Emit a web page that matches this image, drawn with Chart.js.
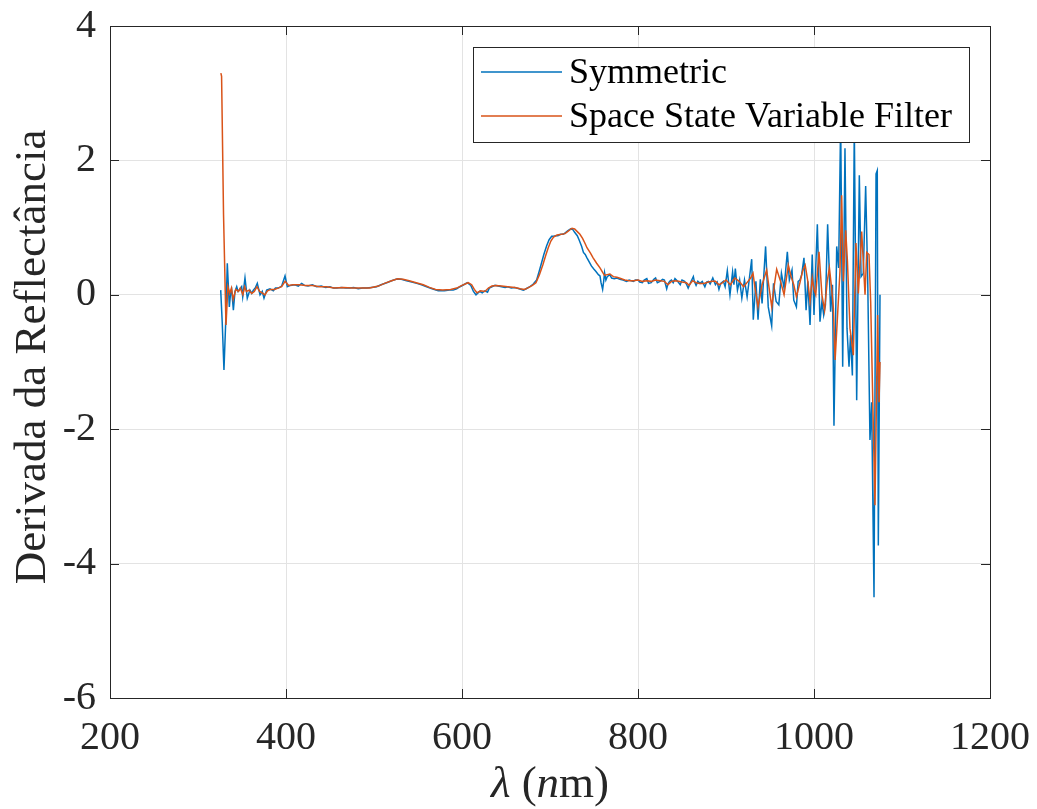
<!DOCTYPE html>
<html>
<head>
<meta charset="utf-8">
<script src="https://cdn.jsdelivr.net/npm/chart.js"></script>
<style>
  html, body { margin: 0; padding: 0; background: #fff; }
</style>
</head>
<body>
<canvas id="myChart" width="1037" height="809"></canvas>

<script>
// wavelength (nm) and derivative values
const symX = [325.8,327.5,329.5,331.5,333.3,335.6,337,338.3,340.2,342,344,345.5,347,349.6,350.8,353.4,356,359,361,362.9,365,367.4,370.5,373,375,378,381.8,385.6,388,391.3,395.1,398.9,401.5,405,410,414,417.8,421,425,430,434.8,440,445,450,453.8,458,463,468,472.7,477,482,487,491.7,497,503,508,514.4,520,525.8,531,537,543,548.5,554,559.8,566,573,580,586,590,594,597.7,602,606,610,613,615.9,620,623,626,629,631,634,637.5,641,645,649,652,656,660,665,669.7,673,677,681,684.8,687.5,690.5,693,696.2,699,701.9,704,706.8,709,712,715,717,720,723.5,726,728,731,733,736,738,740,742,745,747,750,752,755,756.8,758,759.8,761,762,763.5,765,768,770,773,776,779.5,783,787,790,794.7,797,800,802,805,807,810,812,815,818,820,822,825,828,830,832.6,834,836,838,840,842,845,848,850,853,855,857,860,862.9,864,866,868,870.5,873,876,878,880,882,885,888,890,892,894,897,899,901.5,904.5,907.5,909,910.6,913,915.5,918,921,924,926,929.2,931,934,936.4,939,941,945,948,951.9,954,957,960,963,966,969.7,972,975,977,980,982,984,986,988.6,991,993,995.5,998,1000,1003.8,1006.8,1009,1011,1013,1015.5,1018.9,1021,1022.7,1025.8,1028,1030.3,1032.6,1035.2,1037.5,1039.8,1041.5,1043.6,1045.8,1048.5,1051.5,1053.5,1056,1058.7,1061,1063.6,1065.5,1068.2,1070.5,1071.9,1073.1,1075];
const symY = [0.07,-0.4,-1.12,-0.4,0.47,-0.18,0.02,0.07,-0.23,0.05,0.12,0.05,0.07,0.12,-0.03,0.25,-0.05,0.07,0.02,0.07,0.1,0.17,0.0,0.05,-0.05,0.07,0.09,0.06,0.1,0.1,0.13,0.28,0.12,0.14,0.15,0.13,0.17,0.14,0.13,0.15,0.12,0.13,0.11,0.12,0.1,0.1,0.11,0.1,0.1,0.11,0.09,0.1,0.1,0.11,0.12,0.15,0.18,0.21,0.235,0.23,0.21,0.19,0.17,0.15,0.12,0.09,0.06,0.06,0.07,0.07,0.09,0.12,0.15,0.18,0.14,0.05,0.0,0.05,0.03,0.06,0.04,0.1,0.12,0.14,0.13,0.12,0.11,0.12,0.1,0.11,0.09,0.07,0.09,0.12,0.16,0.22,0.34,0.48,0.6,0.73,0.82,0.87,0.87,0.88,0.88,0.9,0.9,0.92,0.95,0.98,0.97,0.93,0.88,0.82,0.72,0.63,0.6,0.55,0.48,0.43,0.38,0.35,0.3,0.28,0.18,0.08,0.2,0.33,0.22,0.27,0.3,0.25,0.24,0.25,0.23,0.22,0.2,0.22,0.2,0.22,0.22,0.19,0.18,0.22,0.24,0.17,0.18,0.23,0.25,0.18,0.2,0.23,0.22,0.09,0.16,0.2,0.22,0.18,0.24,0.2,0.15,0.22,0.2,0.16,0.1,0.19,0.27,0.2,0.14,0.2,0.17,0.2,0.12,0.19,0.2,0.16,0.25,0.15,0.19,0.08,0.17,0.2,0.12,0.36,0.0,0.34,0.15,0.39,0.07,0.22,-0.05,0.22,-0.03,0.18,0.53,-0.37,0.2,-0.37,0.23,-0.13,0.72,-0.18,-0.46,0.17,-0.1,-0.15,0.32,0.1,0.64,0.22,0.37,-0.08,-0.18,0.2,0.22,0.3,0.55,-0.23,0.2,-0.45,0.6,-0.3,1.05,-0.4,-0.1,-0.3,-0.15,1.05,-0.25,0.15,-1.95,0.72,0.4,2.6,-1.07,2.18,-0.5,-1.07,-0.6,-1.2,2.5,-1.57,1.78,0.27,0.32,1.62,0.27,-2.16,-1.6,-4.5,1.8,1.85,-3.73,0.0];

const ssvfX = [326,326.8,329,331.8,334,336,338,340,343,346,348,351,353,355,358,361,364,367,370,373,376,379,383,387,391,395,399,403,408,415,422,430,438,446,455,465,475,485,495,505,512,520,527,533,540,548,556,563,570,578,587,594,600,607,611,614,617,621,626,630,634,639,645,652,660,666,671,676,680,684,688,692,695,698,701,704,708,713,717,720,725,728,731,734,737,740,742,746,749,753,756.8,760,762,765,768,772,776,779.5,785,790,795,800,805,810,815,820,825,830,834,838,842,846,850,855,858,862,866,870,875,880,884,888,892,895,900,905,910,915,920,925,928,930.7,933,936.4,941,946.2,949,952,955,957.6,962,966,970.8,974,977,980,984,987,990,993,995.5,998,1000,1002,1005.7,1009,1012,1015,1017.5,1020,1022,1024,1029.5,1031.4,1033.3,1036,1038,1040.9,1044.7,1047.7,1050.4,1054.2,1058,1059.9,1062.5,1064.4,1069.3,1072.3,1073.9,1075];
const ssvfY = [3.3,3.25,1.2,-0.45,0.12,0.02,0.1,-0.07,0.08,0.05,0.1,0.0,0.12,0.05,0.07,0.02,0.05,0.12,0.05,0.03,0.0,0.06,0.08,0.08,0.1,0.12,0.2,0.14,0.15,0.15,0.14,0.14,0.12,0.12,0.1,0.11,0.1,0.1,0.1,0.13,0.17,0.21,0.24,0.23,0.21,0.18,0.15,0.11,0.08,0.07,0.08,0.1,0.14,0.18,0.15,0.08,0.03,0.06,0.05,0.1,0.13,0.14,0.13,0.12,0.11,0.09,0.08,0.11,0.14,0.18,0.3,0.45,0.58,0.7,0.8,0.86,0.89,0.9,0.91,0.94,0.99,0.98,0.94,0.9,0.84,0.76,0.7,0.62,0.55,0.47,0.4,0.33,0.29,0.3,0.31,0.27,0.26,0.245,0.22,0.21,0.21,0.22,0.2,0.21,0.2,0.22,0.21,0.2,0.15,0.2,0.21,0.2,0.19,0.18,0.14,0.21,0.18,0.17,0.17,0.19,0.2,0.2,0.15,0.17,0.22,0.15,0.25,0.2,0.12,0.2,0.25,0.32,0.1,-0.18,0.15,0.37,0.1,-0.18,0.15,0.38,0.2,0.0,0.44,0.27,0.15,-0.03,0.18,0.35,0.44,0.2,-0.1,0.25,0.08,0.0,0.64,0.0,-0.23,0.2,0.4,0.1,-0.2,-0.97,0.35,1.48,0.2,0.96,0.5,-0.5,-0.9,0.77,0.02,0.94,0.0,0.63,0.6,-0.1,-3.13,-0.3,-1.6,-1.0];

const xTicks = [200, 400, 600, 800, 1000, 1200];
const yTicks = [-6, -4, -2, 0, 2, 4];
const seriesNames = ['Symmetric', 'Space State Variable Filter'];

const BLUE = '#0072BD';
const ORANGE = '#D95319';
const AXIS = '#262626';
const SERIF = '"Liberation Serif", "Times New Roman", serif';

function pts(xs, ys) {
  return xs.map((x, i) => ({x: x, y: ys[i]}));
}

// box, inward ticks, legend and axis titles (matlab look)
const matlabAxes = {
  id: 'matlabAxes',
  afterDraw(chart) {
    const ctx = chart.ctx;
    const a = chart.chartArea;
    const xs = chart.scales.x, ys = chart.scales.y;
    const tl = 9;
    ctx.save();
    ctx.strokeStyle = AXIS;
    ctx.lineWidth = 1;
    ctx.beginPath();
    xTicks.forEach(v => {
      const px = Math.round(xs.getPixelForValue(v)) + 0.5;
      ctx.moveTo(px, a.bottom); ctx.lineTo(px, a.bottom - tl);
      ctx.moveTo(px, a.top); ctx.lineTo(px, a.top + tl);
    });
    yTicks.forEach(v => {
      const py = Math.round(ys.getPixelForValue(v)) + 0.5;
      ctx.moveTo(a.left, py); ctx.lineTo(a.left + tl, py);
      ctx.moveTo(a.right, py); ctx.lineTo(a.right - tl, py);
    });
    ctx.stroke();
    ctx.strokeRect(Math.round(a.left) + 0.5, Math.round(a.top) + 0.5,
                   Math.round(a.right - a.left), Math.round(a.bottom - a.top));

    // legend
    const lx = 473.5, ly = 47.5, lw = 496, lh = 95;
    ctx.fillStyle = '#fff';
    ctx.fillRect(lx, ly, lw, lh);
    ctx.strokeRect(lx, ly, lw, lh);
    const rows = [72, 116];
    const cols = [BLUE, ORANGE];
    ctx.font = '36px ' + SERIF;
    ctx.textBaseline = 'middle';
    ctx.textAlign = 'left';
    rows.forEach((ry, i) => {
      ctx.strokeStyle = cols[i];
      ctx.lineWidth = 1.5;
      ctx.beginPath();
      ctx.moveTo(481, ry); ctx.lineTo(562, ry);
      ctx.stroke();
      ctx.fillStyle = '#000';
      ctx.fillText(seriesNames[i], 569, ry + 2);
    });

    // y title
    ctx.fillStyle = AXIS;
    ctx.save();
    ctx.translate(45, 357);
    ctx.rotate(-Math.PI / 2);
    ctx.font = '45px ' + SERIF;
    ctx.textAlign = 'center';
    ctx.textBaseline = 'alphabetic';
    ctx.fillText('Derivada da Reflectância', 0, 0);
    ctx.restore();

    // x title: λ (nm) with italic λ and n
    const parts = [
      {t: 'λ', f: 'italic 45px ' + SERIF},
      {t: ' (', f: '45px ' + SERIF},
      {t: 'n', f: 'italic 45px ' + SERIF},
      {t: 'm)', f: '45px ' + SERIF}
    ];
    let total = 0;
    parts.forEach(p => { ctx.font = p.f; p.w = ctx.measureText(p.t).width; total += p.w; });
    let cx = 550 - total / 2;
    ctx.textAlign = 'left';
    ctx.textBaseline = 'alphabetic';
    parts.forEach(p => { ctx.font = p.f; ctx.fillText(p.t, cx, 797); cx += p.w; });
    ctx.restore();
  }
};

const config = {
  type: 'line',
  data: {
    datasets: [{
      label: seriesNames[0],
      data: pts(symX, symY),
      borderColor: BLUE,
      borderWidth: 1.5,
      pointRadius: 0,
      tension: 0,
      order: 2
    }, {
      label: seriesNames[1],
      data: pts(ssvfX, ssvfY),
      borderColor: ORANGE,
      borderWidth: 1.5,
      pointRadius: 0,
      tension: 0,
      order: 1
    }]
  },
  options: {
    responsive: false,
    animation: false,
    devicePixelRatio: 1,
    layout: { padding: { top: 26, right: 47, left: 0, bottom: 0 } },
    plugins: { legend: { display: false }, tooltip: { enabled: false } },
    scales: {
      x: {
        type: 'linear',
        min: 200, max: 1200,
        afterBuildTicks: s => { s.ticks = xTicks.map(v => ({value: v})); },
        afterFit: s => { s.height = 111; s.paddingLeft = 0; s.paddingRight = 0; },
        ticks: { font: { family: SERIF, size: 40 }, color: AXIS, padding: 16, maxRotation: 0,
                 callback: v => String(v) },
        grid: { color: '#e3e3e3', drawTicks: false },
        border: { display: false }
      },
      y: {
        min: -6, max: 4,
        afterBuildTicks: s => { s.ticks = yTicks.map(v => ({value: v})); },
        afterFit: s => { s.width = 110; s.paddingTop = 0; s.paddingBottom = 0; },
        ticks: { font: { family: SERIF, size: 40 }, color: AXIS, padding: 14,
                 callback: v => String(v) },
        grid: { color: '#e3e3e3', drawTicks: false },
        border: { display: false }
      }
    }
  },
  plugins: [matlabAxes]
};

var myChart = new Chart(document.getElementById('myChart'), config);
</script>
</body>
</html>
